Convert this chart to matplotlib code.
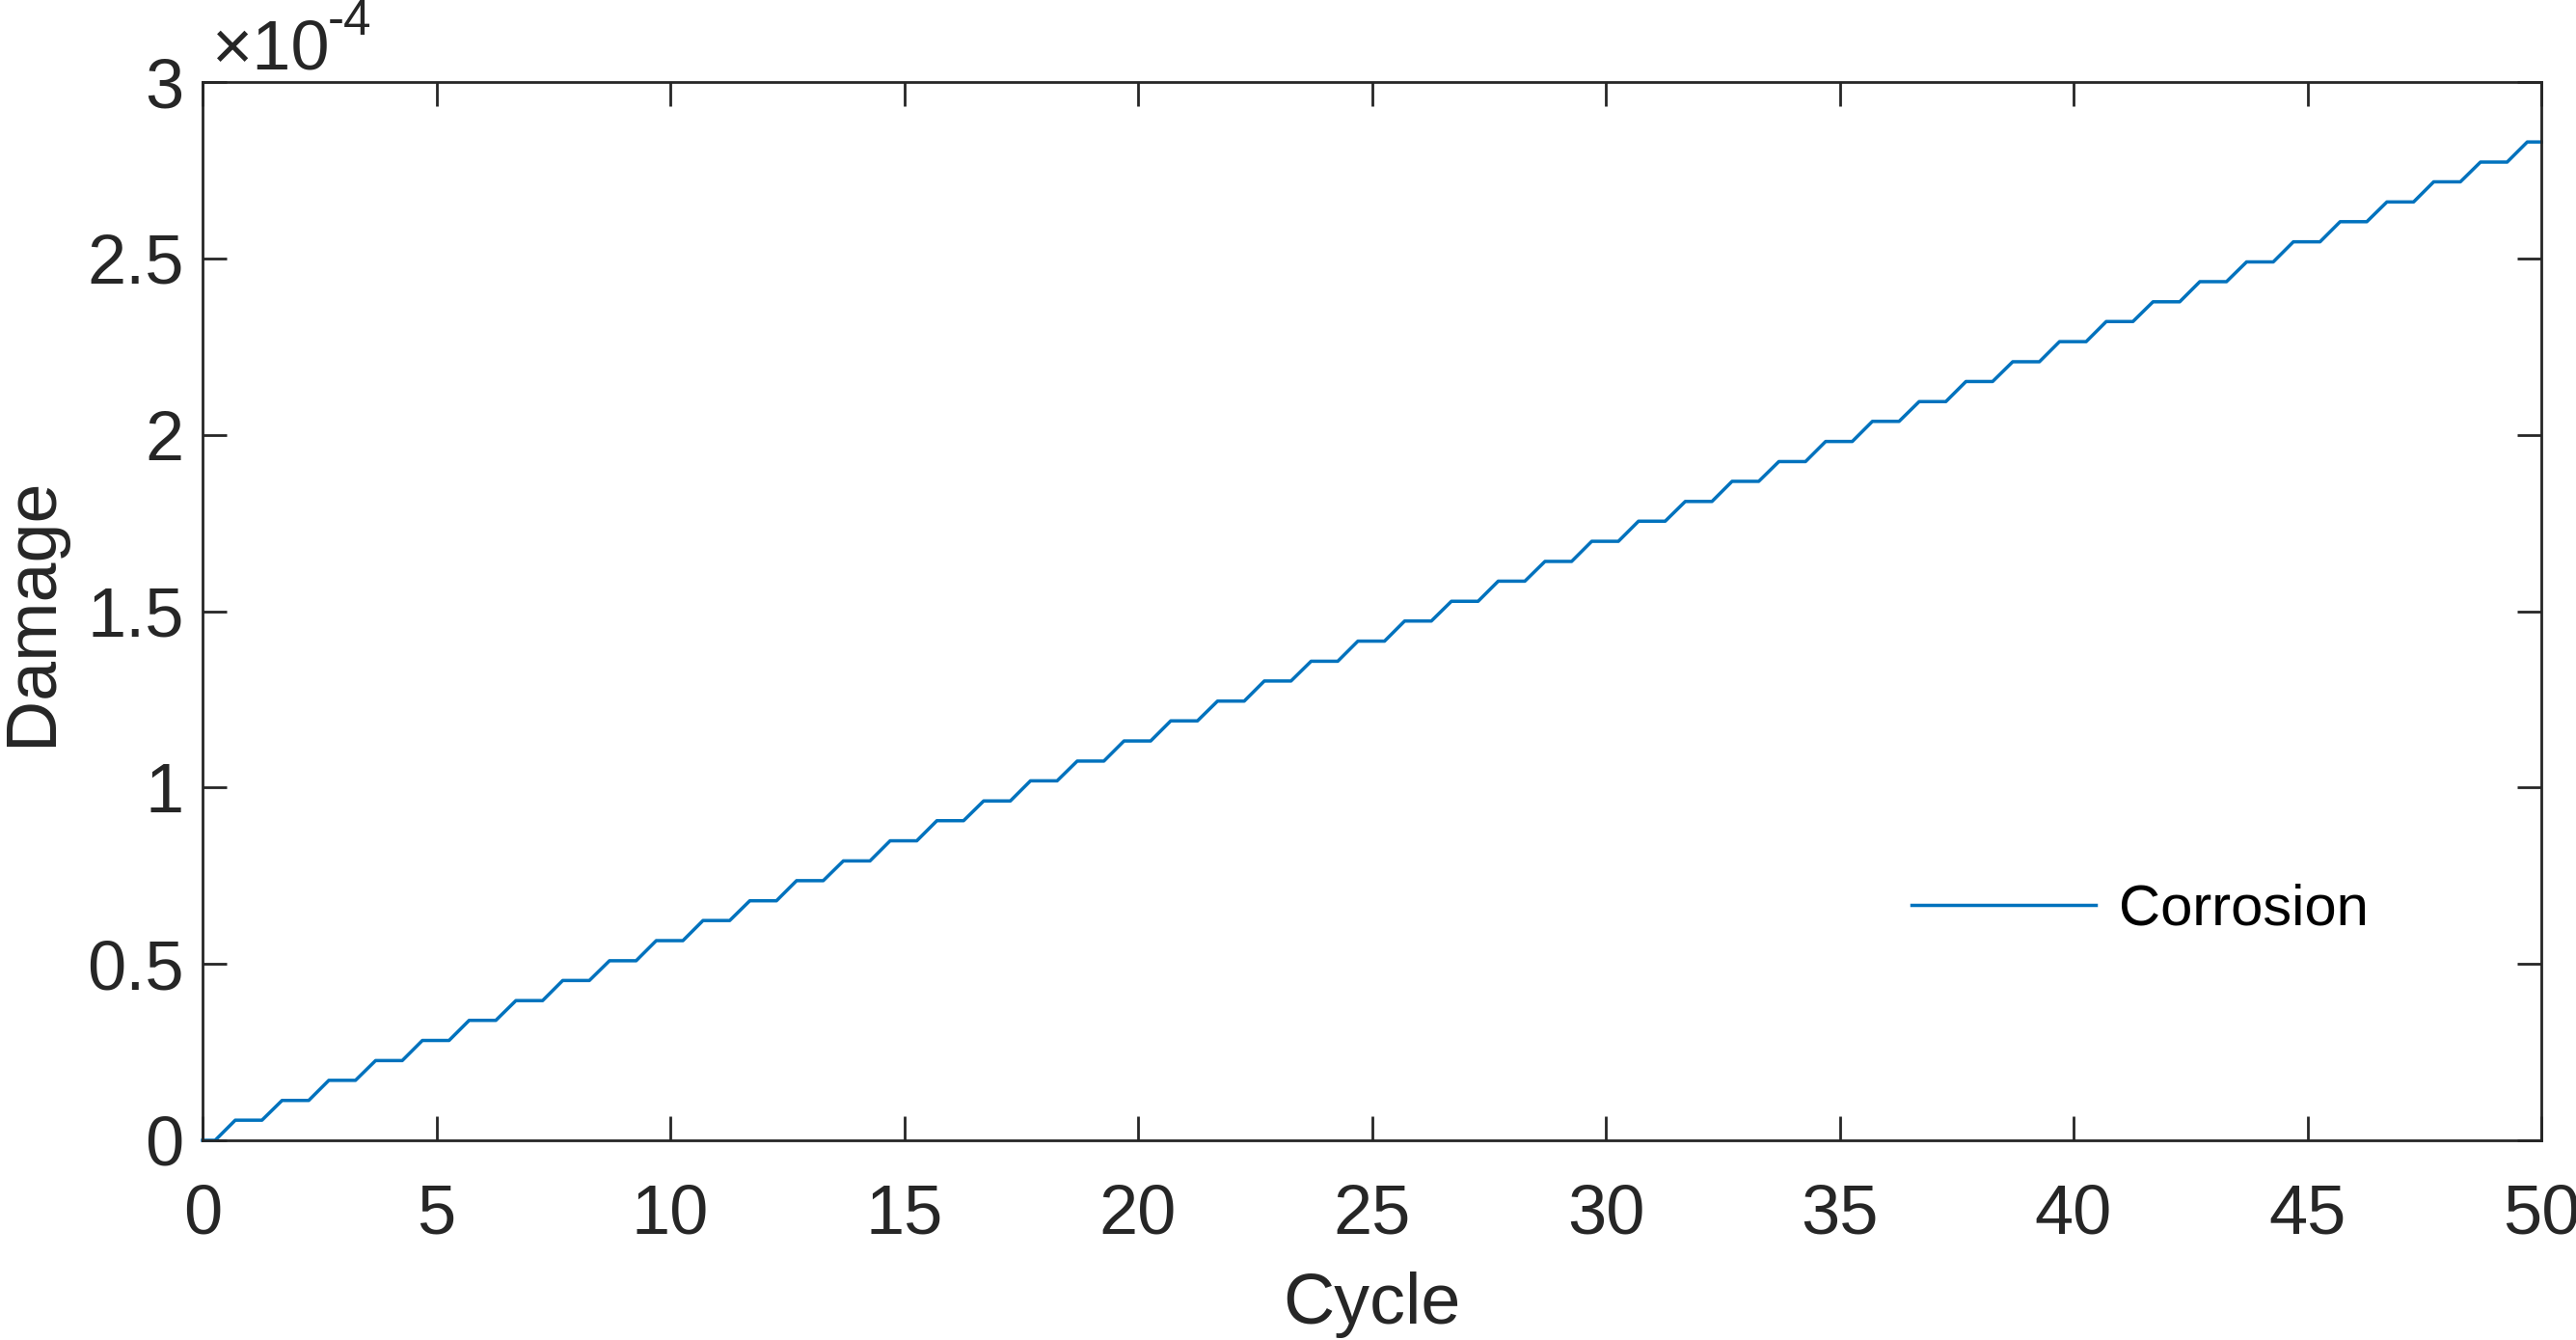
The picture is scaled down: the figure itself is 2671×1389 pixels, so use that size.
import numpy as np
import matplotlib
matplotlib.use("Agg")
import matplotlib.pyplot as plt

# damage level reached at the end of each cycle (x 1e-4), cycle 0..50
cycles = list(range(51))
damage_levels = [0.000, 0.057, 0.113, 0.170, 0.226, 0.283, 0.340, 0.396, 0.453, 0.509,
                 0.566, 0.623, 0.679, 0.736, 0.792, 0.849, 0.906, 0.962, 1.019, 1.075,
                 1.132, 1.189, 1.245, 1.302, 1.358, 1.415, 1.472, 1.528, 1.585, 1.641,
                 1.698, 1.755, 1.811, 1.868, 1.924, 1.981, 2.038, 2.094, 2.151, 2.207,
                 2.264, 2.321, 2.377, 2.434, 2.490, 2.547, 2.604, 2.660, 2.717, 2.773,
                 2.830]
# damage grows inside each cycle between these fractions, flat otherwise
rise_start, rise_end = 0.27, 0.70

x_ticks = [0, 5, 10, 15, 20, 25, 30, 35, 40, 45, 50]
y_ticks = [0, 0.5, 1, 1.5, 2, 2.5, 3]
y_ticklabels = ["0", "0.5", "1", "1.5", "2", "2.5", "3"]

# staircase path
xs, ys = [cycles[0]], [damage_levels[0]]
for k in range(len(cycles) - 1):
    xs += [cycles[k] + rise_start, cycles[k] + rise_end]
    ys += [damage_levels[k], damage_levels[k + 1]]
xs.append(cycles[-1])
ys.append(damage_levels[-1])

plt.rcParams["font.family"] = ["Liberation Sans", "DejaVu Sans"]

dark = "#262626"
fig = plt.figure(figsize=(26.71, 13.89), dpi=100)
ax = fig.add_axes([210 / 2671, 207 / 1389, 2425 / 2671, 1097 / 1389])

ax.plot(xs, ys, color="#0072BD", lw=2.5, label="Corrosion", clip_on=False)

ax.set_xlim(0, 50)
ax.set_ylim(0, 3)
ax.set_xticks(x_ticks)
ax.set_yticks(y_ticks)
ax.set_yticklabels(y_ticklabels)
ax.tick_params(direction="in", length=18, width=2, colors=dark, labelsize=52,
               top=True, right=True, pad=14)
ax.tick_params(axis="x", pad=32)
for s in ax.spines.values():
    s.set_linewidth(2)
    s.set_color(dark)

ax.set_xlabel("Cycle", fontsize=53, color=dark, labelpad=18)
ax.set_ylabel("Damage", fontsize=53, color=dark, labelpad=16)

# exponent label, MATLAB style
ax.text(0.004, 1.0119, "\u00d710", transform=ax.transAxes, fontsize=52,
        color=dark, ha="left", va="baseline")
ax.text(0.0535, 1.045, "-4", transform=ax.transAxes, fontsize=37,
        color=dark, ha="left", va="baseline")

ax.legend(loc="center left", bbox_to_anchor=(0.7307, 0.2175), frameon=False,
          fontsize=43, handlelength=3.2, handletextpad=0.4, borderpad=0,
          borderaxespad=0)

fig.savefig("out.png", dpi=100)
